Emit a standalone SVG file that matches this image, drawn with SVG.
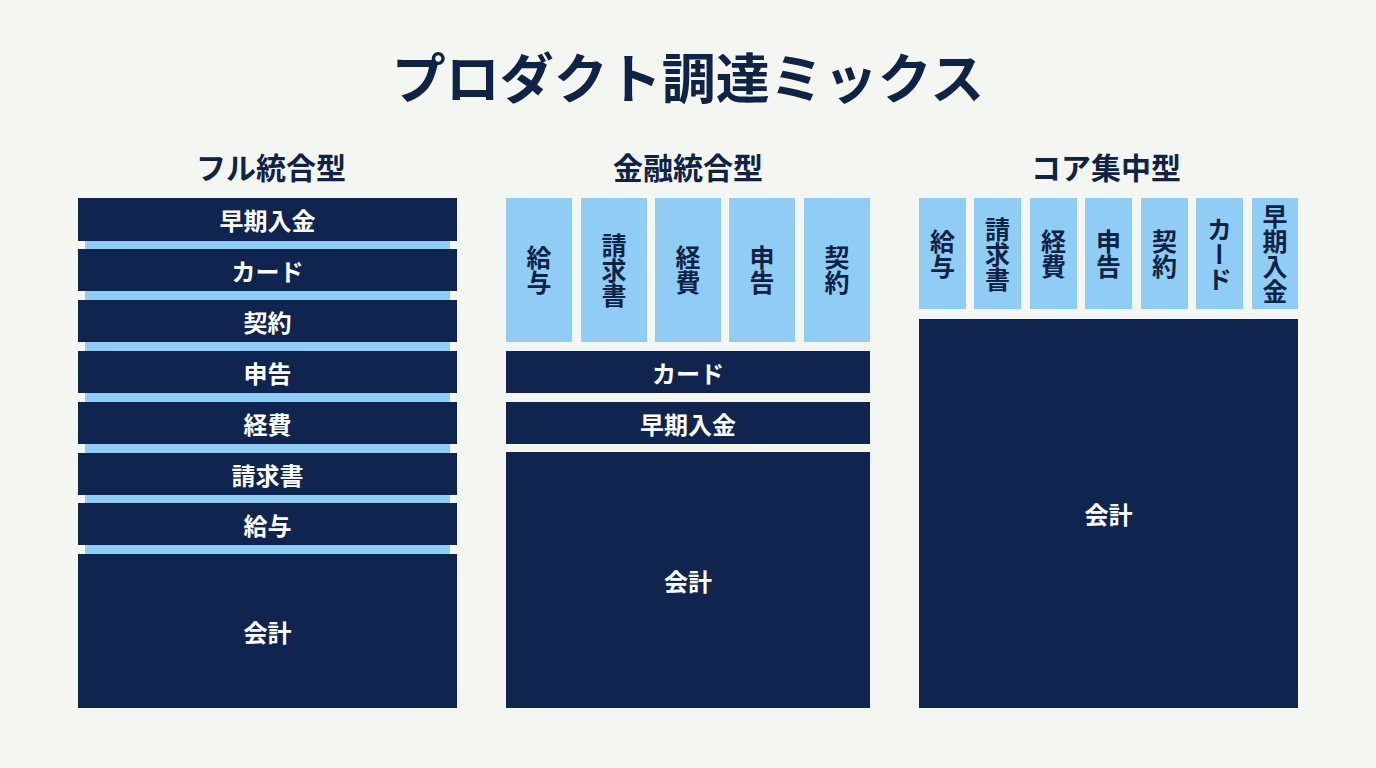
<svg xmlns="http://www.w3.org/2000/svg" width="1376" height="768" viewBox="0 0 1376 768">
<style>
.bg{fill:#f4f6f2}
.navy{fill:#0f2550}
.lb{fill:#90cdf4}
.t{font-family:"Noto Sans CJK JP","Noto Sans",sans-serif;font-weight:700}
.title{font-size:54px;fill:#0f2347}
.head{font-size:30px;fill:#0f2347}
.wl{font-size:24px;fill:#ffffff}
.vl{font-size:25px;fill:#0f2347;writing-mode:vertical-rl;text-orientation:upright}
</style>
<rect class="bg" x="0" y="0" width="1376" height="768"/>
<text class="t title" x="688" y="75" text-anchor="middle" dominant-baseline="central">プロダクト調達ミックス</text>

<g id="col-full">
<text class="t head" x="271" y="166" text-anchor="middle" dominant-baseline="central">フル統合型</text>
<rect class="lb" x="85" y="238" width="365" height="320"/>
<g id="full-early"><rect class="navy" x="78" y="198" width="379" height="43"/><text class="t wl" x="267.5" y="219.5" text-anchor="middle" dominant-baseline="central">早期入金</text></g>
<g id="full-card"><rect class="navy" x="78" y="249" width="379" height="42"/><text class="t wl" x="267.5" y="270" text-anchor="middle" dominant-baseline="central">カード</text></g>
<g id="full-contract"><rect class="navy" x="78" y="300" width="379" height="42"/><text class="t wl" x="267.5" y="321" text-anchor="middle" dominant-baseline="central">契約</text></g>
<g id="full-filing"><rect class="navy" x="78" y="351" width="379" height="42"/><text class="t wl" x="267.5" y="372" text-anchor="middle" dominant-baseline="central">申告</text></g>
<g id="full-expense"><rect class="navy" x="78" y="402" width="379" height="42"/><text class="t wl" x="267.5" y="423" text-anchor="middle" dominant-baseline="central">経費</text></g>
<g id="full-invoice"><rect class="navy" x="78" y="453" width="379" height="42"/><text class="t wl" x="267.5" y="474" text-anchor="middle" dominant-baseline="central">請求書</text></g>
<g id="full-payroll"><rect class="navy" x="78" y="503" width="379" height="42"/><text class="t wl" x="267.5" y="524" text-anchor="middle" dominant-baseline="central">給与</text></g>
<g id="full-accounting"><rect class="navy" x="78" y="554" width="379" height="154"/><text class="t wl" x="267.5" y="631" text-anchor="middle" dominant-baseline="central">会計</text></g>
</g>

<g id="col-fin">
<text class="t head" x="688" y="166" text-anchor="middle" dominant-baseline="central">金融統合型</text>
<g id="fin-payroll"><rect class="lb" x="506" y="198" width="66" height="144"/><text class="t vl" x="539" y="270" text-anchor="middle">給与</text></g>
<g id="fin-invoice"><rect class="lb" x="581" y="198" width="66" height="144"/><text class="t vl" x="614" y="270" text-anchor="middle">請求書</text></g>
<g id="fin-expense"><rect class="lb" x="655" y="198" width="66" height="144"/><text class="t vl" x="688" y="270" text-anchor="middle">経費</text></g>
<g id="fin-filing"><rect class="lb" x="729" y="198" width="66" height="144"/><text class="t vl" x="762" y="270" text-anchor="middle">申告</text></g>
<g id="fin-contract"><rect class="lb" x="804" y="198" width="66" height="144"/><text class="t vl" x="837" y="270" text-anchor="middle">契約</text></g>
<g id="fin-card"><rect class="navy" x="506" y="351" width="364" height="42"/><text class="t wl" x="688" y="372" text-anchor="middle" dominant-baseline="central">カード</text></g>
<g id="fin-early"><rect class="navy" x="506" y="402" width="364" height="42"/><text class="t wl" x="688" y="423" text-anchor="middle" dominant-baseline="central">早期入金</text></g>
<g id="fin-accounting"><rect class="navy" x="506" y="452" width="364" height="256"/><text class="t wl" x="688" y="580" text-anchor="middle" dominant-baseline="central">会計</text></g>
</g>

<g id="col-core">
<text class="t head" x="1106" y="166" text-anchor="middle" dominant-baseline="central">コア集中型</text>
<g id="core-payroll"><rect class="lb" x="919" y="198" width="47" height="111"/><text class="t vl" x="942.5" y="254" text-anchor="middle">給与</text></g>
<g id="core-invoice"><rect class="lb" x="974" y="198" width="47" height="111"/><text class="t vl" x="997.5" y="254" text-anchor="middle">請求書</text></g>
<g id="core-expense"><rect class="lb" x="1030" y="198" width="47" height="111"/><text class="t vl" x="1053.5" y="254" text-anchor="middle">経費</text></g>
<g id="core-filing"><rect class="lb" x="1085" y="198" width="47" height="111"/><text class="t vl" x="1108.5" y="254" text-anchor="middle">申告</text></g>
<g id="core-contract"><rect class="lb" x="1141" y="198" width="47" height="111"/><text class="t vl" x="1164.5" y="254" text-anchor="middle">契約</text></g>
<g id="core-card"><rect class="lb" x="1196" y="198" width="47" height="111"/><text class="t vl" x="1219.5" y="254" text-anchor="middle">カード</text></g>
<g id="core-early"><rect class="lb" x="1252" y="198" width="46" height="111"/><text class="t vl" x="1275" y="254" text-anchor="middle">早期入金</text></g>
<g id="core-accounting"><rect class="navy" x="919" y="319" width="379" height="389"/><text class="t wl" x="1108.5" y="513.5" text-anchor="middle" dominant-baseline="central">会計</text></g>
</g>

<g id="connectors"/>
</svg>
